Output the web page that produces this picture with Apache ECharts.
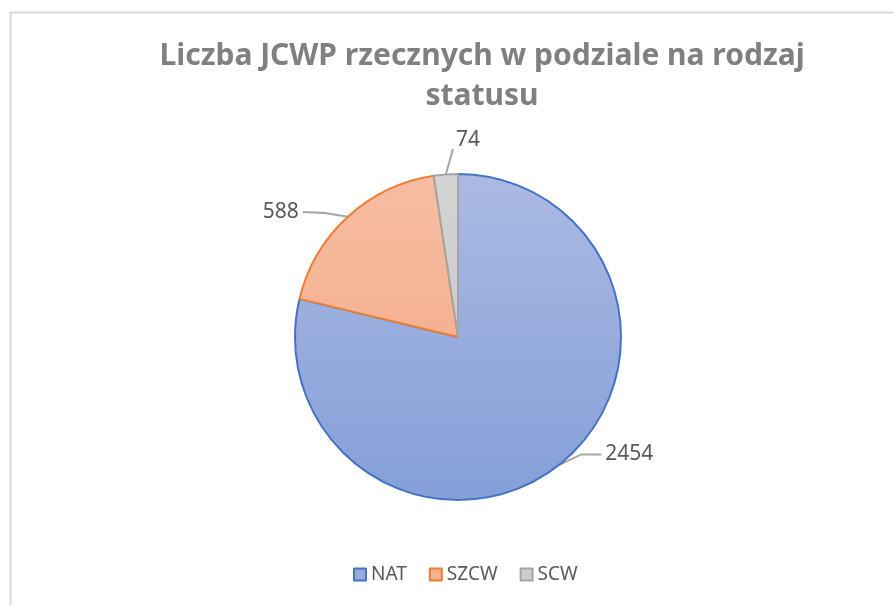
<!DOCTYPE html>
<html><head><meta charset="utf-8">
<script src="https://cdn.jsdelivr.net/npm/echarts@6/dist/echarts.min.js"></script>
<style>html,body{margin:0;padding:0;background:#fff}#c{width:894px;height:605px}</style>
</head><body><div id="c"></div>
<script>
var categories = ['NAT', 'SZCW', 'SCW'];
var values = [2454, 588, 74];
var titleText = 'Liczba JCWP rzecznych w podziale na rodzaj\nstatusu';

var fills = [
  ['#abbae2', '#849fd8'],
  ['#f6bda3', '#f4a680'],
  ['#d3d3d3', '#c8c8c8']
];
var legendFills = ['#98acdc', '#f5b394', '#cccccc'];
var borders = ['#4472c4', '#ed7d31', '#a5a5a5'];
// label nudges relative to default outside placement
var labelShift = [[4, -20], [-6, 4], [70, -22]];

function grad(c) {
  return new echarts.graphic.LinearGradient(0, 174, 0, 500, [
    {offset: 0, color: c[0]}, {offset: 1, color: c[1]}
  ], true);
}

var data = categories.map(function (n, i) {
  return {
    name: n, value: values[i],
    itemStyle: {color: grad(fills[i]), borderColor: borders[i], borderWidth: 2}
  };
});

var chart = echarts.init(document.getElementById('c'), null, {renderer: 'canvas'});
chart.setOption({
  animation: false,
  backgroundColor: '#fff',
  graphic: [{
    type: 'rect', left: 8, top: 10,
    shape: {width: 920, height: 700},
    style: {fill: 'none', stroke: '#d9d9d9', lineWidth: 2}, silent: true
  }],
  title: {
    text: titleText, left: 477, top: 31, textAlign: 'center',
    textStyle: {fontFamily: 'Noto Sans', fontWeight: 'bold', fontSize: 30, color: '#808080', lineHeight: 40}
  },
  legend: {
    bottom: 16, left: 348, itemWidth: 12, itemHeight: 12, itemGap: 22,
    textStyle: {fontFamily: 'Noto Sans', fontSize: 19, color: '#595959'},
    data: categories.map(function (n, i) {
      return {name: n, icon: 'rect', itemStyle: {color: legendFills[i], borderColor: borders[i], borderWidth: 2}};
    })
  },
  series: [{
    type: 'pie',
    center: [458, 337], radius: 163,
    startAngle: 90, clockwise: true,
    data: data,
    label: {show: true, position: 'outside', formatter: '{c}', fontFamily: 'Noto Sans', fontSize: 21, color: '#595959'},
    labelLine: {show: true, length: 12, length2: 30, lineStyle: {color: '#a6a6a6', width: 2}},
    labelLayout: function (p) {
      var s = labelShift[p.dataIndex];
      var r = p.labelRect;
      var x0 = r.x + s[0], y0 = r.y + s[1];
      var start = p.labelLinePoints[0];
      var end, mid;
      if (p.dataIndex === 2) {
        end = [x0 - 3, y0 + r.height - 2];
        mid = [(start[0] + end[0]) / 2, (start[1] + end[1]) / 2];
      } else if (start[0] < x0) {
        end = [x0 - 4, y0 + r.height / 2];
        mid = [end[0] - 20, end[1]];
      } else {
        end = [x0 + r.width + 4, y0 + r.height / 2];
        mid = [end[0] + 22, end[1] + 1];
      }
      return {dx: s[0], dy: s[1], labelLinePoints: [start, mid, end]};
    }
  }]
});
</script></body></html>
